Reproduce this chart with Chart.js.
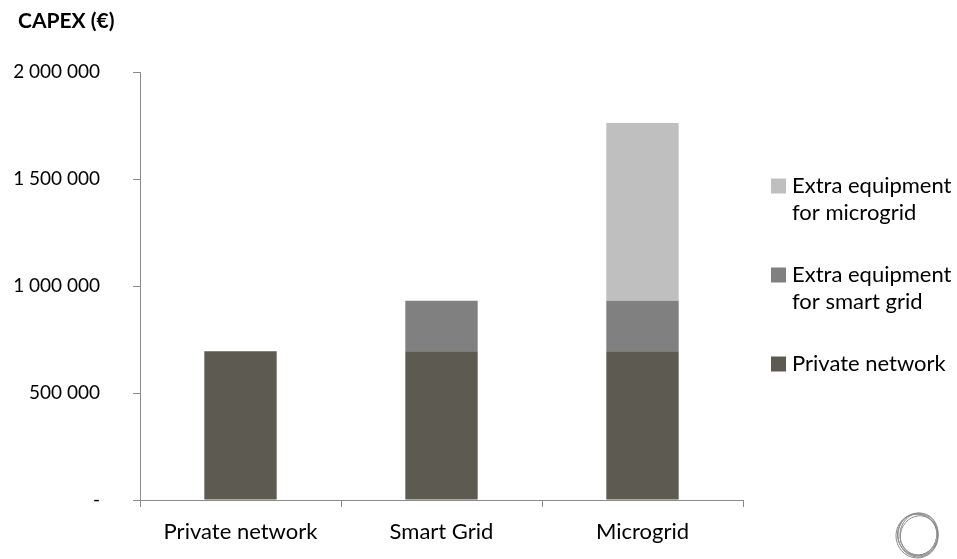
<!DOCTYPE html>
<html>
<head>
<meta charset="utf-8">
<script src="https://cdn.jsdelivr.net/npm/chart.js@4/dist/chart.umd.min.js"></script>
<style>
  html, body { margin: 0; padding: 0; background: #ffffff; }
  #wrap { width: 957px; height: 559px; position: relative; }
</style>
</head>
<body>
<div id="wrap"><canvas id="c" width="957" height="559"></canvas></div>
<script>
// ---- data ----
const categories = ['Private network', 'Smart Grid', 'Microgrid'];
const seriesNames = ['Private network', 'Extra equipment for smart grid', 'Extra equipment for microgrid'];
const privateNetwork = [695000, 695000, 695000];
const extraSmartGrid = [0, 236000, 236000];
const extraMicrogrid = [0, 0, 831000];
const yTickLabels = ['-', '500 000', '1 000 000', '1 500 000', '2 000 000'];
const chartTitle = 'CAPEX (€)';

const colors = ['#5d5a52', '#808080', '#bfbfbf'];
const FONT = 'Lato';
const axisColor = '#8a8a8a';

const overlay = {
  id: 'overlay',
  afterDraw(chart) {
    const ctx = chart.ctx;
    ctx.save();
    // title
    ctx.fillStyle = '#000';
    ctx.font = 'bold 21px ' + FONT;
    ctx.textBaseline = 'alphabetic';
    ctx.textAlign = 'left';
    ctx.fillText(chartTitle, 18, 28);

    // legend (reverse order)
    ctx.font = '22px ' + FONT;
    ctx.textBaseline = 'middle';
    const maxW = 175;
    const ds = chart.data.datasets;
    let y = 186;
    for (let i = ds.length - 1; i >= 0; i--) {
      const words = ds[i].label.split(' ');
      const lines = [];
      let cur = '';
      for (const w of words) {
        const t = cur ? cur + ' ' + w : w;
        if (ctx.measureText(t).width > maxW && cur) { lines.push(cur); cur = w; } else { cur = t; }
      }
      if (cur) lines.push(cur);
      ctx.fillStyle = ds[i].backgroundColor;
      ctx.fillRect(771, y - 7.5, 15, 15);
      ctx.fillStyle = '#000';
      lines.forEach((ln, k) => ctx.fillText(ln, 792, y + k * 27));
      y += 89;
    }

    // decorative logo
    ctx.strokeStyle = '#8c8c8c';
    ctx.lineWidth = 1;
    const offs = [[0,0,20,22,0],[1,-1,19,21,0.2],[-1,1,21,22,-0.15],[0.5,0.5,18,20,0.35],[-0.5,0,20,21,-0.3]];
    offs.forEach(o => {
      ctx.beginPath();
      ctx.ellipse(918 + o[0], 535 + o[1], o[2], o[3], o[4], 0, Math.PI * 2);
      ctx.stroke();
    });
    ctx.restore();
  }
};

new Chart(document.getElementById('c'), {
  type: 'bar',
  data: {
    labels: categories,
    datasets: [
      { label: seriesNames[0], data: privateNetwork, backgroundColor: colors[0] },
      { label: seriesNames[1], data: extraSmartGrid, backgroundColor: colors[1] },
      { label: seriesNames[2], data: extraMicrogrid, backgroundColor: colors[2] }
    ]
  },
  options: {
    responsive: false,
    animation: false,
    devicePixelRatio: 1,
    layout: { padding: { left: 0, top: 72, right: 214, bottom: 0 } },
    datasets: { bar: { categoryPercentage: 1, barPercentage: 0.36, borderWidth: 0 } },
    plugins: { legend: { display: false }, title: { display: false }, tooltip: { enabled: false } },
    scales: {
      x: {
        stacked: true,
        afterFit(s) { s.height = 59; },
        grid: { display: true, offset: true, drawOnChartArea: false, drawTicks: true, tickLength: 7, color: axisColor },
        border: { display: true, color: axisColor, width: 1 },
        ticks: { color: '#000', font: { family: FONT, size: 22 }, padding: 12, maxRotation: 0 }
      },
      y: {
        stacked: true,
        min: 0, max: 2000000,
        afterFit(s) { s.width = 140; },
        grid: { display: true, drawOnChartArea: false, drawTicks: true, tickLength: 7, color: axisColor },
        border: { display: true, color: axisColor, width: 1 },
        ticks: {
          stepSize: 500000, color: '#000', font: { family: FONT, size: 19 }, padding: 33,
          callback: (v, i) => yTickLabels[i]
        }
      }
    }
  },
  plugins: [overlay]
});
</script>
</body>
</html>
